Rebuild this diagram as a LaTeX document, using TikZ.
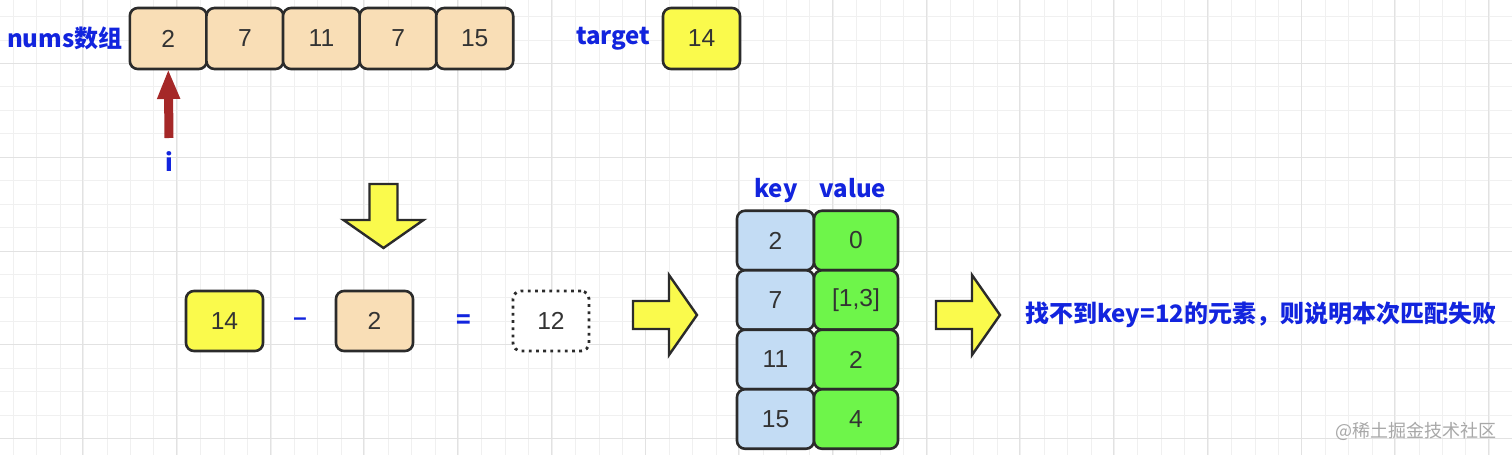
\documentclass[tikz,border=0pt]{standalone}
\usepackage{fontspec}
\setmainfont{Liberation Sans}
\newfontfamily\cjk{Noto Sans CJK SC}
\usetikzlibrary{arrows.meta,positioning}
\definecolor{linecol}{HTML}{2B2B2B}
\definecolor{peach}{HTML}{F9DEB6}
\definecolor{tgtyellow}{HTML}{FAFA4C}
\definecolor{keyblue}{HTML}{C3DCF4}
\definecolor{valgreen}{HTML}{6EF54A}
\definecolor{lblblue}{HTML}{1224DE}
\definecolor{ptrred}{HTML}{A52828}
\definecolor{numgray}{HTML}{333333}
\definecolor{gridminor}{HTML}{F0F0F0}
\definecolor{gridmajor}{HTML}{E2E2E2}
\definecolor{wmgray}{HTML}{A8A8A8}
\tikzset{
  cell/.style={rectangle,rounded corners=4pt,draw=linecol,line width=1.3pt,
    minimum width=38.5pt,minimum height=30.5pt,inner sep=0pt,outer sep=0pt,
    text=numgray,font=\fontsize{12.3}{14}\selectfont},
  numcell/.style={cell,fill=peach},
  tgtcell/.style={cell,fill=tgtyellow},
  keycell/.style={cell,fill=keyblue,minimum height=29.75pt},
  valcell/.style={cell,fill=valgreen,minimum width=42pt,minimum height=29.75pt},
  rescell/.style={cell,fill=white,line width=1.4pt,dash pattern=on 1.4pt off 2.2pt},
  lbl/.style={text=lblblue,font=\cjk\bfseries\fontsize{12}{14}\selectfont,inner sep=0pt},
  yarrow/.pic={\draw[fill=tgtyellow,draw=linecol,line width=1.2pt,line join=miter]
    (0,-14) -- (36,-14) -- (36,-40) -- (64,0) -- (36,40) -- (36,14) -- (0,14) -- cycle;}
}
\begin{document}
\begin{tikzpicture}[x=0.5pt,y=-0.5pt]
\fill[white] (0,0) rectangle (1512,455);
\useasboundingbox (0,0) rectangle (1512,455);
% grid
\foreach \k in {0,...,63} \draw[gridminor,line width=0.5pt] ({13.3+23.43*\k},0) -- ++(0,455);
\foreach \k in {0,...,18} \draw[gridminor,line width=0.5pt] (0,{16.7+23.43*\k}) -- ++(1512,0);
\foreach \k in {0,...,15} \draw[gridmajor,line width=0.5pt] ({82.7+93.72*\k},0) -- ++(0,455);
\foreach \k in {0,...,4} \draw[gridmajor,line width=0.5pt] (0,{63.6+93.72*\k}) -- ++(1512,0);

\foreach \v [count=\k] in {2,7,11,7,15}
  \node[numcell] (n\k) at ({168.3+76.6*(\k-1)},38.5) {\v};
\node[lbl,left=3.5pt of n1] (numslbl) {nums数组};
\node[tgtcell] (tgt) at (701.5,38.5) {14};
\node[lbl,left=6pt of tgt] (tgtlbl) {target};

\node[lbl] (ilbl) at (169,162) {i};
\coordinate (ptrbase) at (169,138);
\draw[ptrred,line width=4.5pt,-{Triangle[width=10.5pt,length=15pt]}] (ptrbase) -- (n1.south);

\pic[rotate=-90] at (383.5,184) {yarrow};

\node[tgtcell,minimum height=30pt] (lhs) at (224.5,321) {14};
\node[lbl,font=\bfseries\fontsize{12}{14}\selectfont] (minus) at (300,322) {--};
\node[numcell,minimum height=30pt] (sub) at (374.5,321) {2};
\node[lbl] (eq) at (464,322) {=};
\node[rescell,minimum width=38pt,minimum height=30pt] (res) at (551,321) {12};

\pic at (633,315) {yarrow};

\node[lbl,anchor=base] (keylbl) at (776,197) {key};
\node[lbl,anchor=base] (vallbl) at (853,197) {value};
\foreach \kv/\vv [count=\r] in {2/0,7/{[1,3]},11/2,15/4} {
  \node[keycell] (k\r) at (775.5,{181+59.5*\r}) {\kv};
  \node[valcell] (v\r) at (856,{181+59.5*\r}) {\vv};
}

\pic at (936,315) {yarrow};
\node[lbl,anchor=west] (msg) at (1025,315) {找不到key=12的元素，则说明本次匹配失败};

\node[font=\cjk\fontsize{9}{10}\selectfont,text=wmgray,anchor=east,inner sep=0pt] (wm) at (1497,431) {@稀土掘金技术社区};
\end{tikzpicture}
\end{document}
